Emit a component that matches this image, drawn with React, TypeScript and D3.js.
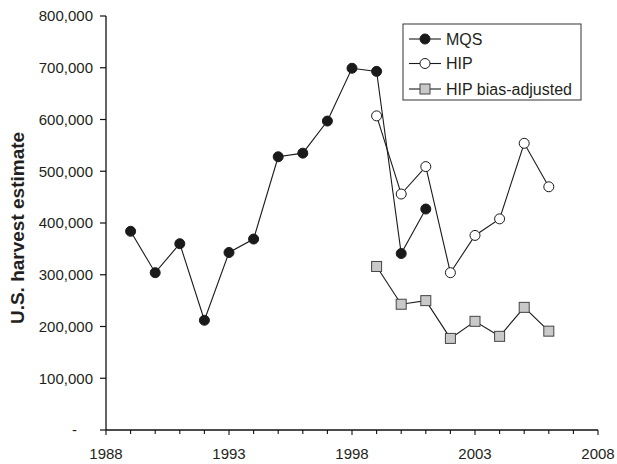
import React from "react";
import * as d3 from "d3";

// Harvest estimates by year
const mqsYears = [1989, 1990, 1991, 1992, 1993, 1994, 1995, 1996, 1997, 1998, 1999, 2000, 2001];
const mqsValues = [384000, 304000, 360000, 212000, 343000, 369000, 528000, 535000, 597000, 699000, 693000, 341000, 427000];

const hipYears = [1999, 2000, 2001, 2002, 2003, 2004, 2005, 2006];
const hipValues = [607000, 456000, 509000, 304000, 376000, 408000, 554000, 470000];

const hipAdjYears = [1999, 2000, 2001, 2002, 2003, 2004, 2005, 2006];
const hipAdjValues = [316000, 243000, 250000, 177000, 210000, 181000, 237000, 191000];

const xTickYears = [1988, 1993, 1998, 2003, 2008];
const yTickValues = [0, 100000, 200000, 300000, 400000, 500000, 600000, 700000, 800000];

const legendLabels = ["MQS", "HIP", "HIP bias-adjusted"];

const W = 617;
const H = 464;
const left = 106;
const right = 598;
const top = 16;
const bottom = 430;
const textColor = "#231f20";
const font = "Arial, 'Liberation Sans', Helvetica, sans-serif";

export default function App() {
  const x = d3.scaleLinear().domain([1988, 2008]).range([left, right]);
  const y = d3.scaleLinear().domain([0, 800000]).range([bottom, top]);

  const line = d3
    .line<[number, number]>()
    .x((d) => x(d[0]))
    .y((d) => y(d[1]));

  const mqs: [number, number][] = mqsYears.map((yr, i) => [yr, mqsValues[i]]);
  const hip: [number, number][] = hipYears.map((yr, i) => [yr, hipValues[i]]);
  const adj: [number, number][] = hipAdjYears.map((yr, i) => [yr, hipAdjValues[i]]);

  const minorYears = d3.range(1988, 2009);
  const fmt = d3.format(",");

  const circle = (cx: number, cy: number, filled: boolean, key: string) => (
    <circle
      key={key}
      cx={cx}
      cy={cy}
      r={5}
      fill={filled ? "#1a1a1a" : "#fff"}
      stroke="#1a1a1a"
      strokeWidth={1}
    />
  );
  const square = (cx: number, cy: number, key: string) => (
    <rect
      key={key}
      x={cx - 5}
      y={cy - 5}
      width={10}
      height={10}
      fill="#c9c9c9"
      stroke="#444"
      strokeWidth={1}
    />
  );

  const legendX = 403;
  const legendY = 24;
  const legendRows = [39, 63.5, 89];

  return (
    <div style={{ position: "absolute", left: 0, top: 0 }}>
      <svg width={W} height={H} style={{ display: "block", background: "#fff" }} fontFamily={font}>
        {/* y axis */}
        <line x1={left} x2={left} y1={top} y2={bottom} stroke="#111" strokeWidth={1.3} />
        {yTickValues.map((v) => (
          <g key={"yt" + v}>
            <line x1={left - 6} x2={left} y1={y(v)} y2={y(v)} stroke="#111" strokeWidth={1.2} />
            <text
              x={v === 0 ? 77 : 93}
              y={y(v)}
              dy="0.36em"
              textAnchor="end"
              fontSize={15}
              fill={textColor}
            >
              {v === 0 ? "-" : fmt(v)}
            </text>
          </g>
        ))}

        {/* x axis */}
        <line x1={left} x2={right} y1={bottom} y2={bottom} stroke="#111" strokeWidth={1.3} />
        {minorYears.map((yr) => (
          <line
            key={"xm" + yr}
            x1={x(yr)}
            x2={x(yr)}
            y1={bottom}
            y2={bottom + (xTickYears.includes(yr) ? 5 : 4)}
            stroke="#111"
            strokeWidth={1.1}
          />
        ))}
        {xTickYears.map((yr) => (
          <text
            key={"xl" + yr}
            x={x(yr)}
            y={459}
            textAnchor="middle"
            fontSize={15}
            fill={textColor}
          >
            {yr}
          </text>
        ))}

        {/* y axis title */}
        <text
          transform={`translate(24, ${(top + bottom) / 2 + 5}) rotate(-90)`}
          textAnchor="middle"
          fontSize={19}
          fontWeight="bold"
          fill={textColor}
        >
          U.S. harvest estimate
        </text>

        {/* series lines */}
        <path d={line(mqs) || ""} fill="none" stroke="#1a1a1a" strokeWidth={1.1} />
        <path d={line(hip) || ""} fill="none" stroke="#1a1a1a" strokeWidth={1.1} />
        <path d={line(adj) || ""} fill="none" stroke="#1a1a1a" strokeWidth={1.1} />

        {/* markers */}
        {mqs.map((d, i) => circle(x(d[0]), y(d[1]), true, "m" + i))}
        {hip.map((d, i) => circle(x(d[0]), y(d[1]), false, "h" + i))}
        {adj.map((d, i) => square(x(d[0]), y(d[1]), "a" + i))}

        {/* legend */}
        <rect
          x={legendX}
          y={legendY}
          width={178}
          height={76}
          fill="#fff"
          stroke="#333"
          strokeWidth={1}
        />
        {legendLabels.map((lab, i) => {
          const cy = legendRows[i];
          const cx = 425;
          return (
            <g key={"lg" + i}>
              <line x1={409} x2={441} y1={cy} y2={cy} stroke="#1a1a1a" strokeWidth={1.1} />
              {i === 0 && circle(cx, cy, true, "lm")}
              {i === 1 && circle(cx, cy, false, "lh")}
              {i === 2 && square(cx, cy, "la")}
              <text x={446} y={cy + 5.8} fontSize={16} fill={textColor}>
                {lab}
              </text>
            </g>
          );
        })}
      </svg>
    </div>
  );
}
